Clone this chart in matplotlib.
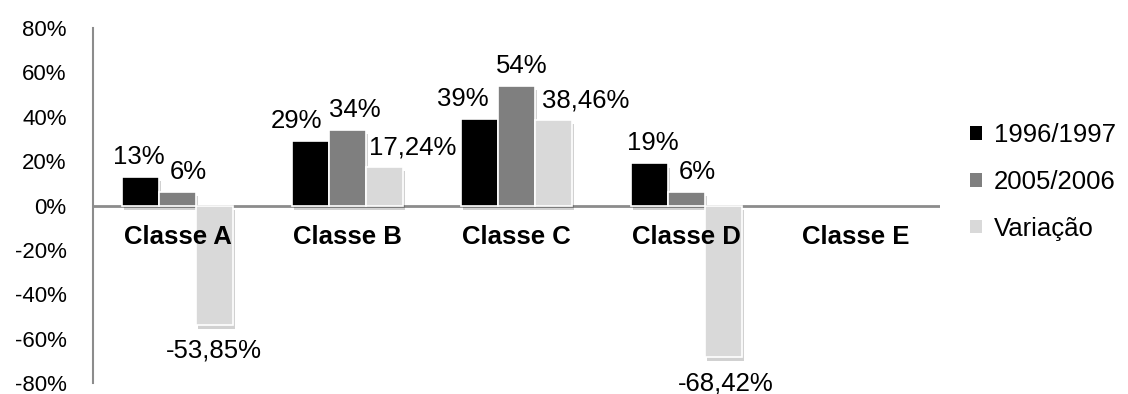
import numpy as np
import matplotlib
matplotlib.use("Agg")
import matplotlib.pyplot as plt
from matplotlib import patheffects


categories = ["Classe A", "Classe B", "Classe C", "Classe D", "Classe E"]
series_names = ["1996/1997", "2005/2006", "Variação"]
v1996 = [13, 29, 39, 19, 0]
v2005 = [6, 34, 54, 6, 0]
variacao = [-53.85, 17.24, 38.46, -68.42, 0]
labels1996 = ["13%", "29%", "39%", "19%", ""]
labels2005 = ["6%", "34%", "54%", "6%", ""]
labelsVar = ["-53,85%", "17,24%", "38,46%", "-68,42%", ""]
yticks = [-80, -60, -40, -20, 0, 20, 40, 60, 80]

colors = ["#000000", "#7f7f7f", "#d9d9d9"]
# horizontal nudges of the data labels (pixels), like excel spreads them
nudges = [[-2, -14, -17, 4, 0],
          [11, 8, 5, 11, 0],
          [-1, 28, 32, 3, 0]]

plt.rcParams['font.family'] = ['Liberation Sans', 'DejaVu Sans']

fig = plt.figure(figsize=(11.28, 3.94), dpi=100)
ax = fig.add_axes([93/1128, 11/394, (940.5-93)/1128, (383-28)/394])

x = np.arange(len(categories))
w = 0.218
shadow = [patheffects.SimplePatchShadow(offset=(1.5, -3), shadow_rgbFace="#000000", alpha=0.18),
          patheffects.Normal()]

allvals = [v1996, v2005, variacao]
alllabels = [labels1996, labels2005, labelsVar]
for k in range(3):
    bars = ax.bar(x + (k-1)*w, allvals[k], width=w, color=colors[k],
                  edgecolor="white", linewidth=1.2, label=series_names[k], zorder=3)
    for i, b in enumerate(bars):
        if allvals[k][i] == 0:
            b.set_visible(False)
            continue
        b.set_path_effects(shadow)
        v = allvals[k][i]
        cx = b.get_x() + b.get_width()/2
        if v >= 0:
            ax.annotate(alllabels[k][i], (cx, v), xytext=(nudges[k][i], 8),
                        textcoords="offset pixels", ha="center", va="bottom",
                        fontsize=18.5, zorder=5)
        else:
            ax.annotate(alllabels[k][i], (cx, v), xytext=(nudges[k][i], -14),
                        textcoords="offset pixels", ha="center", va="top",
                        fontsize=18.5, zorder=5)

# category names just under the zero line
for i, c in enumerate(categories):
    ax.annotate(c, (x[i], 0), xytext=(0, -31), textcoords="offset pixels",
                ha="center", va="center", fontsize=18.5, fontweight="bold")

ax.set_xlim(-0.5, len(categories) - 0.5)
ax.set_ylim(-80, 80)
ax.set_yticks(yticks, [str(t) + "%" for t in yticks], fontsize=16)
ax.tick_params(axis="y", length=0, pad=19)
ax.set_xticks([])
for s in ["top", "right", "bottom"]:
    ax.spines[s].set_visible(False)
ax.spines["left"].set_color("#8c8c8c")
ax.spines["left"].set_linewidth(1.5)
ax.axhline(0, color="#8c8c8c", linewidth=2, zorder=2)

leg = ax.legend(loc="center left", bbox_to_anchor=(1.008, 0.566), frameon=False,
                fontsize=18.5, handlelength=0.45, handleheight=0.45,
                handletextpad=0.45, labelspacing=0.88)
for h in leg.legend_handles:
    h.set_path_effects([])
    h.set_linewidth(0)
    h.set_visible(True)

fig.savefig("out.png", dpi=100)
plt.close()
